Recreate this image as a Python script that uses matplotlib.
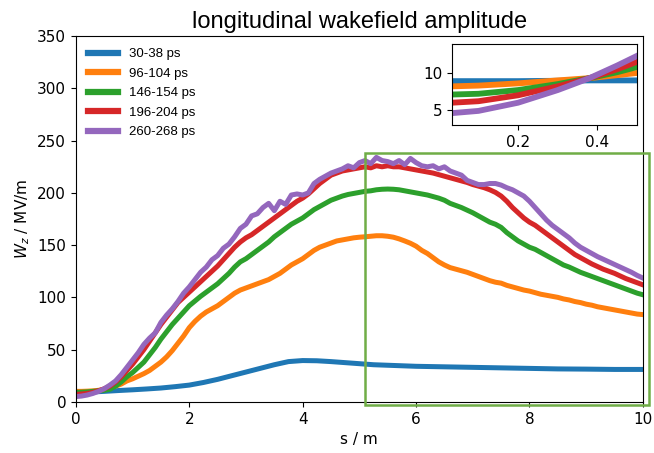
import numpy as np
import matplotlib
matplotlib.use("Agg")
import matplotlib.pyplot as plt
from matplotlib.patches import Rectangle

# ---------------- data ----------------
labels = ["30-38 ps", "96-104 ps", "146-154 ps", "196-204 ps", "260-268 ps"]
colors = ["#1f77b4", "#ff7f0e", "#2ca02c", "#d62728", "#9467bd"]

s_blue = [0, 0.25, 0.5, 0.75, 1, 1.25, 1.5, 1.75, 2, 2.25, 2.5, 2.75, 3, 3.25, 3.5, 3.75, 4, 4.25,
          4.5, 4.75, 5, 5.25, 5.5, 5.75, 6, 6.5, 7, 7.5, 8, 8.5, 9, 9.5, 10]
w_blue = [9, 9.3, 10, 10.8, 11.5, 12.3, 13.2, 14.5, 16, 18.5, 21.5, 25, 28.5, 32, 35.5, 38.5, 39.5, 39.3,
          38.5, 37.5, 36.5, 35.5, 35, 34.5, 34, 33.5, 33, 32.5, 32, 31.5, 31.3, 31, 31]

s_t = [i * 0.1 for i in range(101)]
w_orange = [10, 10, 10.2, 10.5, 11, 12, 13.5, 15, 17, 20,
            22, 24.5, 27, 30, 34, 38, 43, 49, 56, 63,
            71, 77, 82, 86, 89, 92, 96, 100, 104, 107,
            109, 111, 113, 115, 117, 120, 123, 127, 131, 134,
            137, 141, 145, 148, 150, 152, 154, 155, 156, 157,
            157.6, 158, 158.5, 159, 159, 158.5, 157.6, 156, 154, 151.8,
            149, 145, 142, 138, 134, 131, 128.5, 127, 125.5, 124,
            122, 120, 118, 116, 114.5, 113.6, 111.5, 110, 108.5, 107,
            106, 104.5, 103, 102, 101, 100, 98.5, 97.5, 96, 95,
            93.5, 92.5, 91, 90, 89, 88, 87, 86, 85, 84, 83.5]
w_green = [9, 9.2, 9.5, 10, 10.5, 11, 12, 15, 19, 24,
           28, 33, 38, 45, 52, 60, 67, 74, 80, 86,
           92, 96.5, 101, 105, 109, 113, 118, 123, 129, 134,
           137, 141, 145, 149, 153, 158, 162, 166, 170, 173,
           176, 180, 184, 187, 190, 193, 195, 197, 198.5, 199.5,
           200.5, 201.5, 202, 203, 203.5, 203.7, 203.5, 203, 202, 201,
           200, 199, 198, 196.5, 195, 193, 190, 188, 186, 183.5,
           181, 178, 175, 172, 170, 167, 162, 158, 154, 151,
           148, 146, 143, 140, 137, 134, 131, 129, 126.5, 124,
           122, 120, 118, 116, 114, 112, 110, 108, 106, 104, 102.5]
w_red = [7, 7.5, 8, 9, 10.5, 12.5, 15, 19, 24, 30,
         36, 43, 50, 58, 66, 74, 81, 88, 95, 100,
         105, 110, 115, 120, 125, 130, 136, 142, 148, 153,
         157, 160, 164, 168, 172, 176, 180, 184, 188, 192,
         195, 199, 204, 209, 213, 217, 219, 221, 222, 223,
         224, 225, 224, 226, 225, 226, 225, 225, 224, 223,
         222, 221, 220, 219, 217.5, 216, 214.5, 213, 211.5, 210,
         208, 206.5, 205, 203, 200.5, 197, 192, 186, 181, 176,
         172, 169, 165, 161, 157, 153, 149, 145, 141, 138,
         135, 132, 129.5, 127, 125, 123, 120.5, 118, 116, 114, 112]
w_purple = [5, 5.5, 6.5, 8, 10, 12.5, 16, 20, 26, 33,
            40, 47, 55, 61, 66, 76, 83, 89, 96, 104,
            110, 117, 124, 129, 136, 140, 147, 151, 158, 166,
            170, 178, 180, 186, 190, 183, 192, 189, 198, 199,
            198, 200, 209, 213, 216, 219, 221, 223, 226, 224,
            229, 231, 228, 234, 231, 230, 228, 231, 227, 233,
            229, 226, 225, 226, 223, 225, 221, 219, 217, 212,
            210, 208, 208, 209, 209, 207.5, 205, 203, 200, 197,
            192, 186, 180, 174, 169, 165, 161, 157, 152, 148,
            145, 142, 139, 136.5, 134, 131.5, 129, 126.5, 124, 121, 118.5]

# inset (zoom near s = 0)
s_in = [0.033, 0.1, 0.2, 0.3, 0.38, 0.45, 0.5]
in_blue = [8.9, 8.9, 8.9, 8.95, 9.0, 9.0, 9.0]
in_orange = [8.2, 8.3, 8.6, 9.0, 9.3, 9.7, 10.0]
in_green = [7.1, 7.2, 7.7, 8.5, 9.3, 10.1, 10.8]
in_red = [6.0, 6.2, 7.0, 8.2, 9.3, 10.5, 11.5]
in_purple = [4.6, 4.9, 6.0, 7.7, 9.3, 11.0, 12.3]

# ---------------- plot ----------------
fig = plt.figure(figsize=(6.54, 4.53), dpi=100)
ax = fig.add_axes([0.116, 0.113, 0.867, 0.807])

main_series = [(s_blue, w_blue), (s_t, w_orange), (s_t, w_green), (s_t, w_red), (s_t, w_purple)]
lw = 3.6
for (x, y), c, lab in zip(main_series, colors, labels):
    ax.plot(x, y, color=c, lw=lw, label=lab, solid_joinstyle="round")

ax.set_xlim(0, 10)
ax.set_ylim(0, 350)
ax.set_xticks([0, 2, 4, 6, 8, 10])
ax.set_yticks([0, 50, 100, 150, 200, 250, 300, 350])
ax.tick_params(labelsize=11)
ax.set_xlabel("s / m", fontsize=11)
ax.set_ylabel("$W_z$ / MV/m", fontsize=11)
ax.set_title("longitudinal wakefield amplitude", fontsize=17,
             family=["Liberation Sans Narrow", "Liberation Sans", "DejaVu Sans"], pad=6)

leg = ax.legend(loc="upper left", frameon=False,
                prop={"family": ["Liberation Sans Narrow", "Liberation Sans", "DejaVu Sans"], "size": 9.5},
                handlelength=2.3, labelspacing=0.55, borderaxespad=0.5)
for h in leg.get_lines():
    h.set_linewidth(4.5)

rect = Rectangle((5.1, -3), 5.0, 241, fill=False, edgecolor="#70ad47", lw=1.8,
                 clip_on=False, zorder=5)
ax.add_patch(rect)

axin = fig.add_axes([0.691, 0.724, 0.283, 0.179])
inset_series = [in_blue, in_orange, in_green, in_red, in_purple]
for y, c in zip(inset_series, colors):
    axin.plot(s_in, y, color=c, lw=4.2)
axin.set_xlim(0.033, 0.5)
axin.set_ylim(3, 13.9)
axin.set_xticks([0.2, 0.4])
axin.set_yticks([5, 10])
axin.tick_params(labelsize=11)

fig.savefig("out.png", dpi=100)
